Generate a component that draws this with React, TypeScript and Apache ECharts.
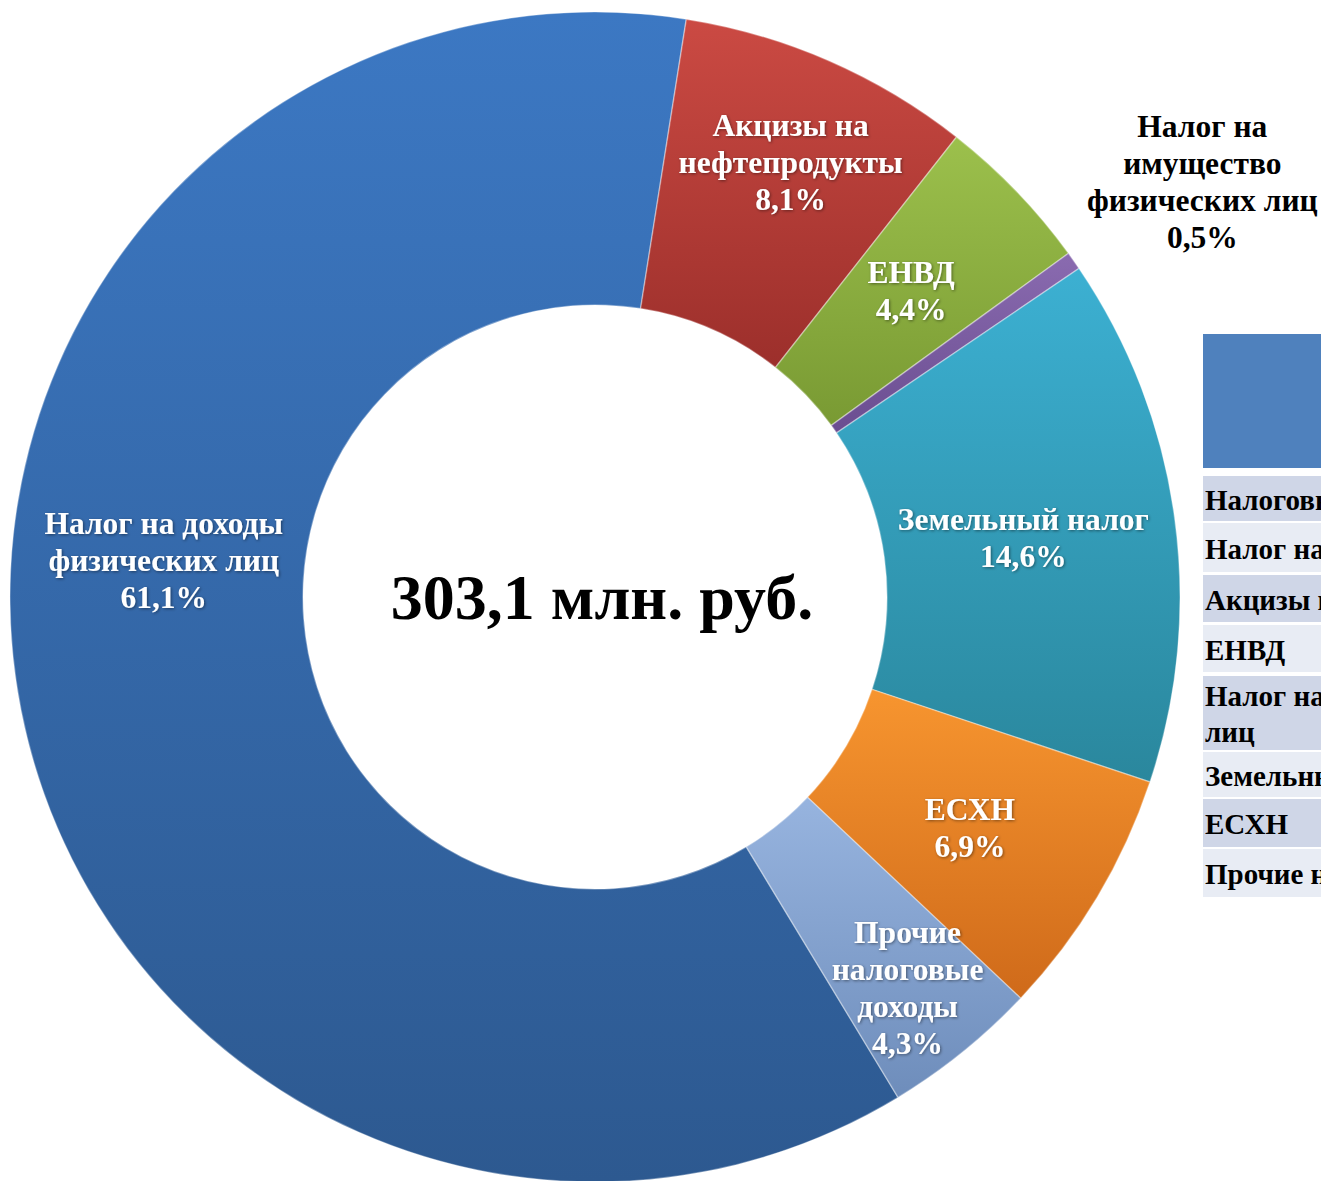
import React, { useEffect, useRef } from "react";
import * as echarts from "echarts";

// ---- data ----
const categories = [
  "Налог на доходы физических лиц",
  "Акцизы на нефтепродукты",
  "ЕНВД",
  "Налог на имущество физических лиц",
  "Земельный налог",
  "ЕСХН",
  "Прочие налоговые доходы",
];
const labelNames = [
  "Налог на доходы\nфизических лиц",
  "Акцизы на\nнефтепродукты",
  "ЕНВД",
  "Налог на\nимущество\nфизических лиц",
  "Земельный налог",
  "ЕСХН",
  "Прочие\nналоговые\nдоходы",
];
const shares = [61.1, 8.1, 4.4, 0.5, 14.6, 6.9, 4.3];
const totalText = "303,1 млн. руб.";
const tableRows = [
  "Налоговые доходы",
  "Налог на доходы физических лиц",
  "Акцизы на нефтепродукты",
  "ЕНВД",
  "Налог на имущество физических\nлиц",
  "Земельный налог",
  "ЕСХН",
  "Прочие налоговые доходы",
];

// ---- styles ----
const FONT = '"Liberation Serif", "Times New Roman", serif';
const sliceColors: [string, string][] = [
  ["#3c78c3", "#2d5990"],
  ["#cb4a43", "#9c2f2b"],
  ["#9cc04c", "#799a33"],
  ["#8a6bb0", "#6a4d90"],
  ["#3cb0d2", "#2a879d"],
  ["#f7952f", "#cf6a1a"],
  ["#97b4df", "#6e8dbb"],
];
const labelOffsets: [number, number][] = [
  [2, -122],
  [19, -30],
  [-2, 0],
  [246, -161],
  [-9, 1],
  [-4, 4],
  [35, 48],
];
const rowTops = [476, 523, 575, 625, 676, 752, 799, 849];
const rowBottoms = [521, 572, 622, 672, 750, 797, 847, 897];

export default function App() {
  const ref = useRef<HTMLDivElement>(null);
  useEffect(() => {
    if (!ref.current) return;
    const chart = echarts.init(ref.current, undefined, { renderer: "svg" });

    const data = categories.map((name, i) => ({
      name,
      value: shares[i],
      itemStyle: {
        color: new echarts.graphic.LinearGradient(0, 0, 0, 1, [
          { offset: 0, color: sliceColors[i][0] },
          { offset: 1, color: sliceColors[i][1] },
        ]),
      },
      label:
        i === 3
          ? { color: "#000", textShadowColor: "transparent", textShadowBlur: 0 }
          : {},
    }));

    const graphics: any[] = [
      {
        type: "text",
        x: 602,
        y: 597,
        style: {
          text: totalText,
          font: `bold 64px ${FONT}`,
          fill: "#000",
          textAlign: "center",
          textVerticalAlign: "middle",
        },
      },
      {
        type: "rect",
        shape: { x: 1203, y: 334, width: 140, height: 134 },
        style: { fill: "#4f81bd" },
      },
    ];
    tableRows.forEach((t, i) => {
      graphics.push({
        type: "rect",
        shape: {
          x: 1203,
          y: rowTops[i],
          width: 140,
          height: rowBottoms[i] - rowTops[i],
        },
        style: { fill: i % 2 === 0 ? "#cfd6e7" : "#e8ecf4" },
      });
      graphics.push({
        type: "text",
        x: 1205,
        y: (rowTops[i] + rowBottoms[i]) / 2 + 1,
        style: {
          text: t,
          font: `bold 29px ${FONT}`,
          fill: "#000",
          textAlign: "left",
          textVerticalAlign: "middle",
          lineHeight: 36,
        },
      });
    });

    chart.setOption({
      animation: false,
      backgroundColor: "#ffffff",
      series: [
        {
          type: "pie",
          center: [595, 597],
          radius: [292, 585],
          startAngle: 301.2,
          clockwise: true,
          avoidLabelOverlap: false,
          itemStyle: {
            borderColor: "rgba(255,255,255,0.35)",
            borderWidth: 1.5,
          },
          label: {
            show: true,
            position: "inside",
            color: "#fff",
            fontFamily: FONT,
            fontWeight: "bold",
            fontSize: 31.5,
            lineHeight: 37,
            align: "center",
            textShadowColor: "rgba(0,0,0,0.45)",
            textShadowBlur: 3,
            textShadowOffsetX: 1,
            textShadowOffsetY: 1,
            formatter: (p: any) =>
              `${labelNames[p.dataIndex]}\n${String(p.value).replace(".", ",")}%`,
          },
          labelLine: { show: false },
          labelLayout: (p: any) => ({
            dx: labelOffsets[p.dataIndex][0],
            dy: labelOffsets[p.dataIndex][1],
          }),
          emphasis: { disabled: true },
          data,
        },
      ],
      graphic: graphics,
    });

    return () => chart.dispose();
  }, []);

  return (
    <div
      ref={ref}
      style={{ position: "fixed", left: 0, top: 0, width: 1321, height: 1181 }}
    />
  );
}
